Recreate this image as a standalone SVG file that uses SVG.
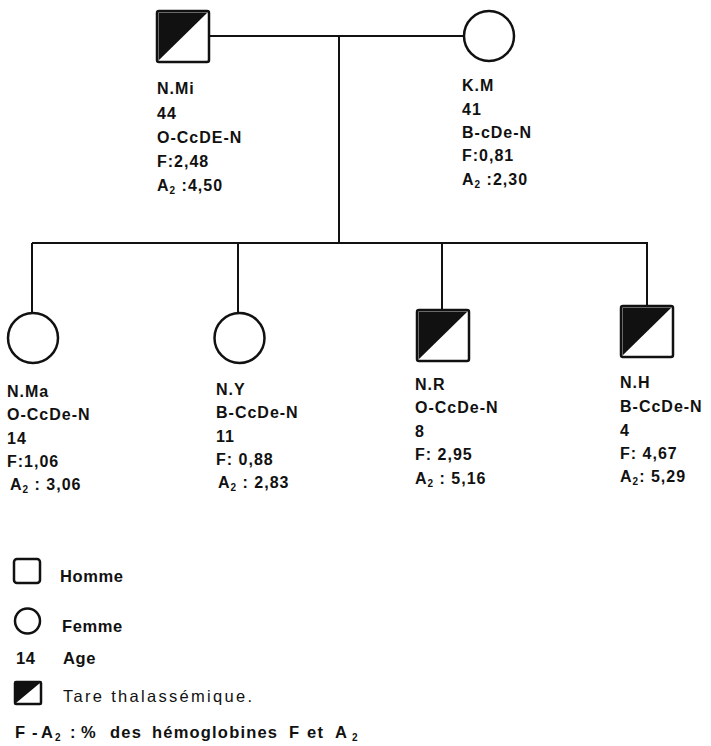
<svg xmlns="http://www.w3.org/2000/svg" width="711" height="746" viewBox="0 0 711 746">
  <style>
    .ln { stroke: #111; stroke-width: 2; fill: none; }
    .sym { stroke: #111; stroke-width: 2.5; fill: #fff; }
    .half { fill: #111; }
    .lbl { font-family: "Liberation Sans", Arial, sans-serif; font-size: 16px; font-weight: bold; letter-spacing: 1px; fill: #111; }
    .leg { font-family: "Liberation Sans", Arial, sans-serif; font-size: 16.5px; font-weight: bold; letter-spacing: 0.6px; fill: #111; }
    .sub { font-size: 10px; }
  </style>
  <defs>
    <!-- half-shaded square used for carriers -->
    <g id="carrier">
      <rect class="sym" x="0" y="0" width="52" height="51" rx="2"/>
      <path class="half" d="M1.5,1.5 H50.5 L1.5,49.5 Z"/>
    </g>
  </defs>

  <!-- connectors -->
  <g id="connectors">
    <line class="ln" x1="209" y1="36" x2="464" y2="36"/>
    <line class="ln" x1="339" y1="36" x2="339" y2="243"/>
    <line class="ln" x1="32" y1="243" x2="648" y2="243"/>
    <line class="ln" x1="32" y1="243" x2="32" y2="313"/>
    <line class="ln" x1="238" y1="243" x2="238" y2="313"/>
    <line class="ln" x1="442" y1="243" x2="442" y2="310"/>
    <line class="ln" x1="647" y1="243" x2="647" y2="306"/>
  </g>

  <!-- parents -->
  <g id="father-NMi">
    <use href="#carrier" x="157" y="11"/>
    <text class="lbl" x="157" y="94">N.Mi</text>
    <text class="lbl" x="157" y="119">44</text>
    <text class="lbl" x="157" y="143">O-CcDE-N</text>
    <text class="lbl" x="157" y="167">F:2,48</text>
    <text class="lbl" x="157" y="191">A<tspan class="sub" dy="3">2</tspan><tspan dy="-3"> :4,50</tspan></text>
  </g>
  <g id="mother-KM">
    <circle class="sym" cx="489" cy="36" r="25"/>
    <text class="lbl" x="462" y="91">K.M</text>
    <text class="lbl" x="462" y="115">41</text>
    <text class="lbl" x="462" y="138">B-cDe-N</text>
    <text class="lbl" x="462" y="161">F:0,81</text>
    <text class="lbl" x="462" y="185">A<tspan class="sub" dy="3">2</tspan><tspan dy="-3"> :2,30</tspan></text>
  </g>

  <!-- children -->
  <g id="child-NMa">
    <circle class="sym" cx="33" cy="338" r="25"/>
    <text class="lbl" x="7" y="397">N.Ma</text>
    <text class="lbl" x="7" y="420">O-CcDe-N</text>
    <text class="lbl" x="7" y="444">14</text>
    <text class="lbl" x="7" y="467">F:1,06</text>
    <text class="lbl" x="10" y="490">A<tspan class="sub" dy="3">2</tspan><tspan dy="-3"> : 3,06</tspan></text>
  </g>
  <g id="child-NY">
    <circle class="sym" cx="239.5" cy="338" r="25"/>
    <text class="lbl" x="216" y="395">N.Y</text>
    <text class="lbl" x="216" y="418">B-CcDe-N</text>
    <text class="lbl" x="216" y="442">11</text>
    <text class="lbl" x="216" y="465">F: 0,88</text>
    <text class="lbl" x="218" y="488">A<tspan class="sub" dy="3">2</tspan><tspan dy="-3"> : 2,83</tspan></text>
  </g>
  <g id="child-NR">
    <use href="#carrier" x="417" y="310"/>
    <text class="lbl" x="415" y="390">N.R</text>
    <text class="lbl" x="415" y="413">O-CcDe-N</text>
    <text class="lbl" x="415" y="437">8</text>
    <text class="lbl" x="415" y="460">F: 2,95</text>
    <text class="lbl" x="415" y="484">A<tspan class="sub" dy="3">2</tspan><tspan dy="-3"> : 5,16</tspan></text>
  </g>
  <g id="child-NH">
    <use href="#carrier" x="621" y="306"/>
    <text class="lbl" x="620" y="388">N.H</text>
    <text class="lbl" x="620" y="412">B-CcDe-N</text>
    <text class="lbl" x="620" y="436">4</text>
    <text class="lbl" x="620" y="459">F: 4,67</text>
    <text class="lbl" x="620" y="482">A<tspan class="sub" dy="3">2</tspan><tspan dy="-3">: 5,29</tspan></text>
  </g>

  <!-- legend -->
  <g id="legend">
    <rect class="sym" x="14" y="559" width="26" height="24" rx="3"/>
    <text class="leg" x="60" y="582">Homme</text>
    <circle class="sym" cx="27.5" cy="621" r="12.5"/>
    <text class="leg" x="62" y="632">Femme</text>
    <text class="leg" x="16" y="664">14</text>
    <text class="leg" x="63" y="664">Age</text>
    <rect class="sym" x="15" y="682" width="26" height="22" rx="1"/>
    <path class="half" d="M16,683 H40 L16,703 Z"/>
    <text class="leg" x="63" y="702" style="font-weight:normal;letter-spacing:2.3px">Tare thalassémique.</text>
    <text class="leg" y="738" style="letter-spacing:1.2px"><tspan x="15">F</tspan><tspan x="32">-</tspan><tspan x="41">A</tspan><tspan class="sub" x="55" dy="3">2</tspan><tspan x="70" dy="-3">:</tspan><tspan x="81">%</tspan><tspan x="110">des</tspan><tspan x="152">hémoglobines</tspan><tspan x="289">F</tspan><tspan x="307">et</tspan><tspan x="335">A</tspan><tspan class="sub" x="352" dy="3">2</tspan></text>
  </g>
</svg>
